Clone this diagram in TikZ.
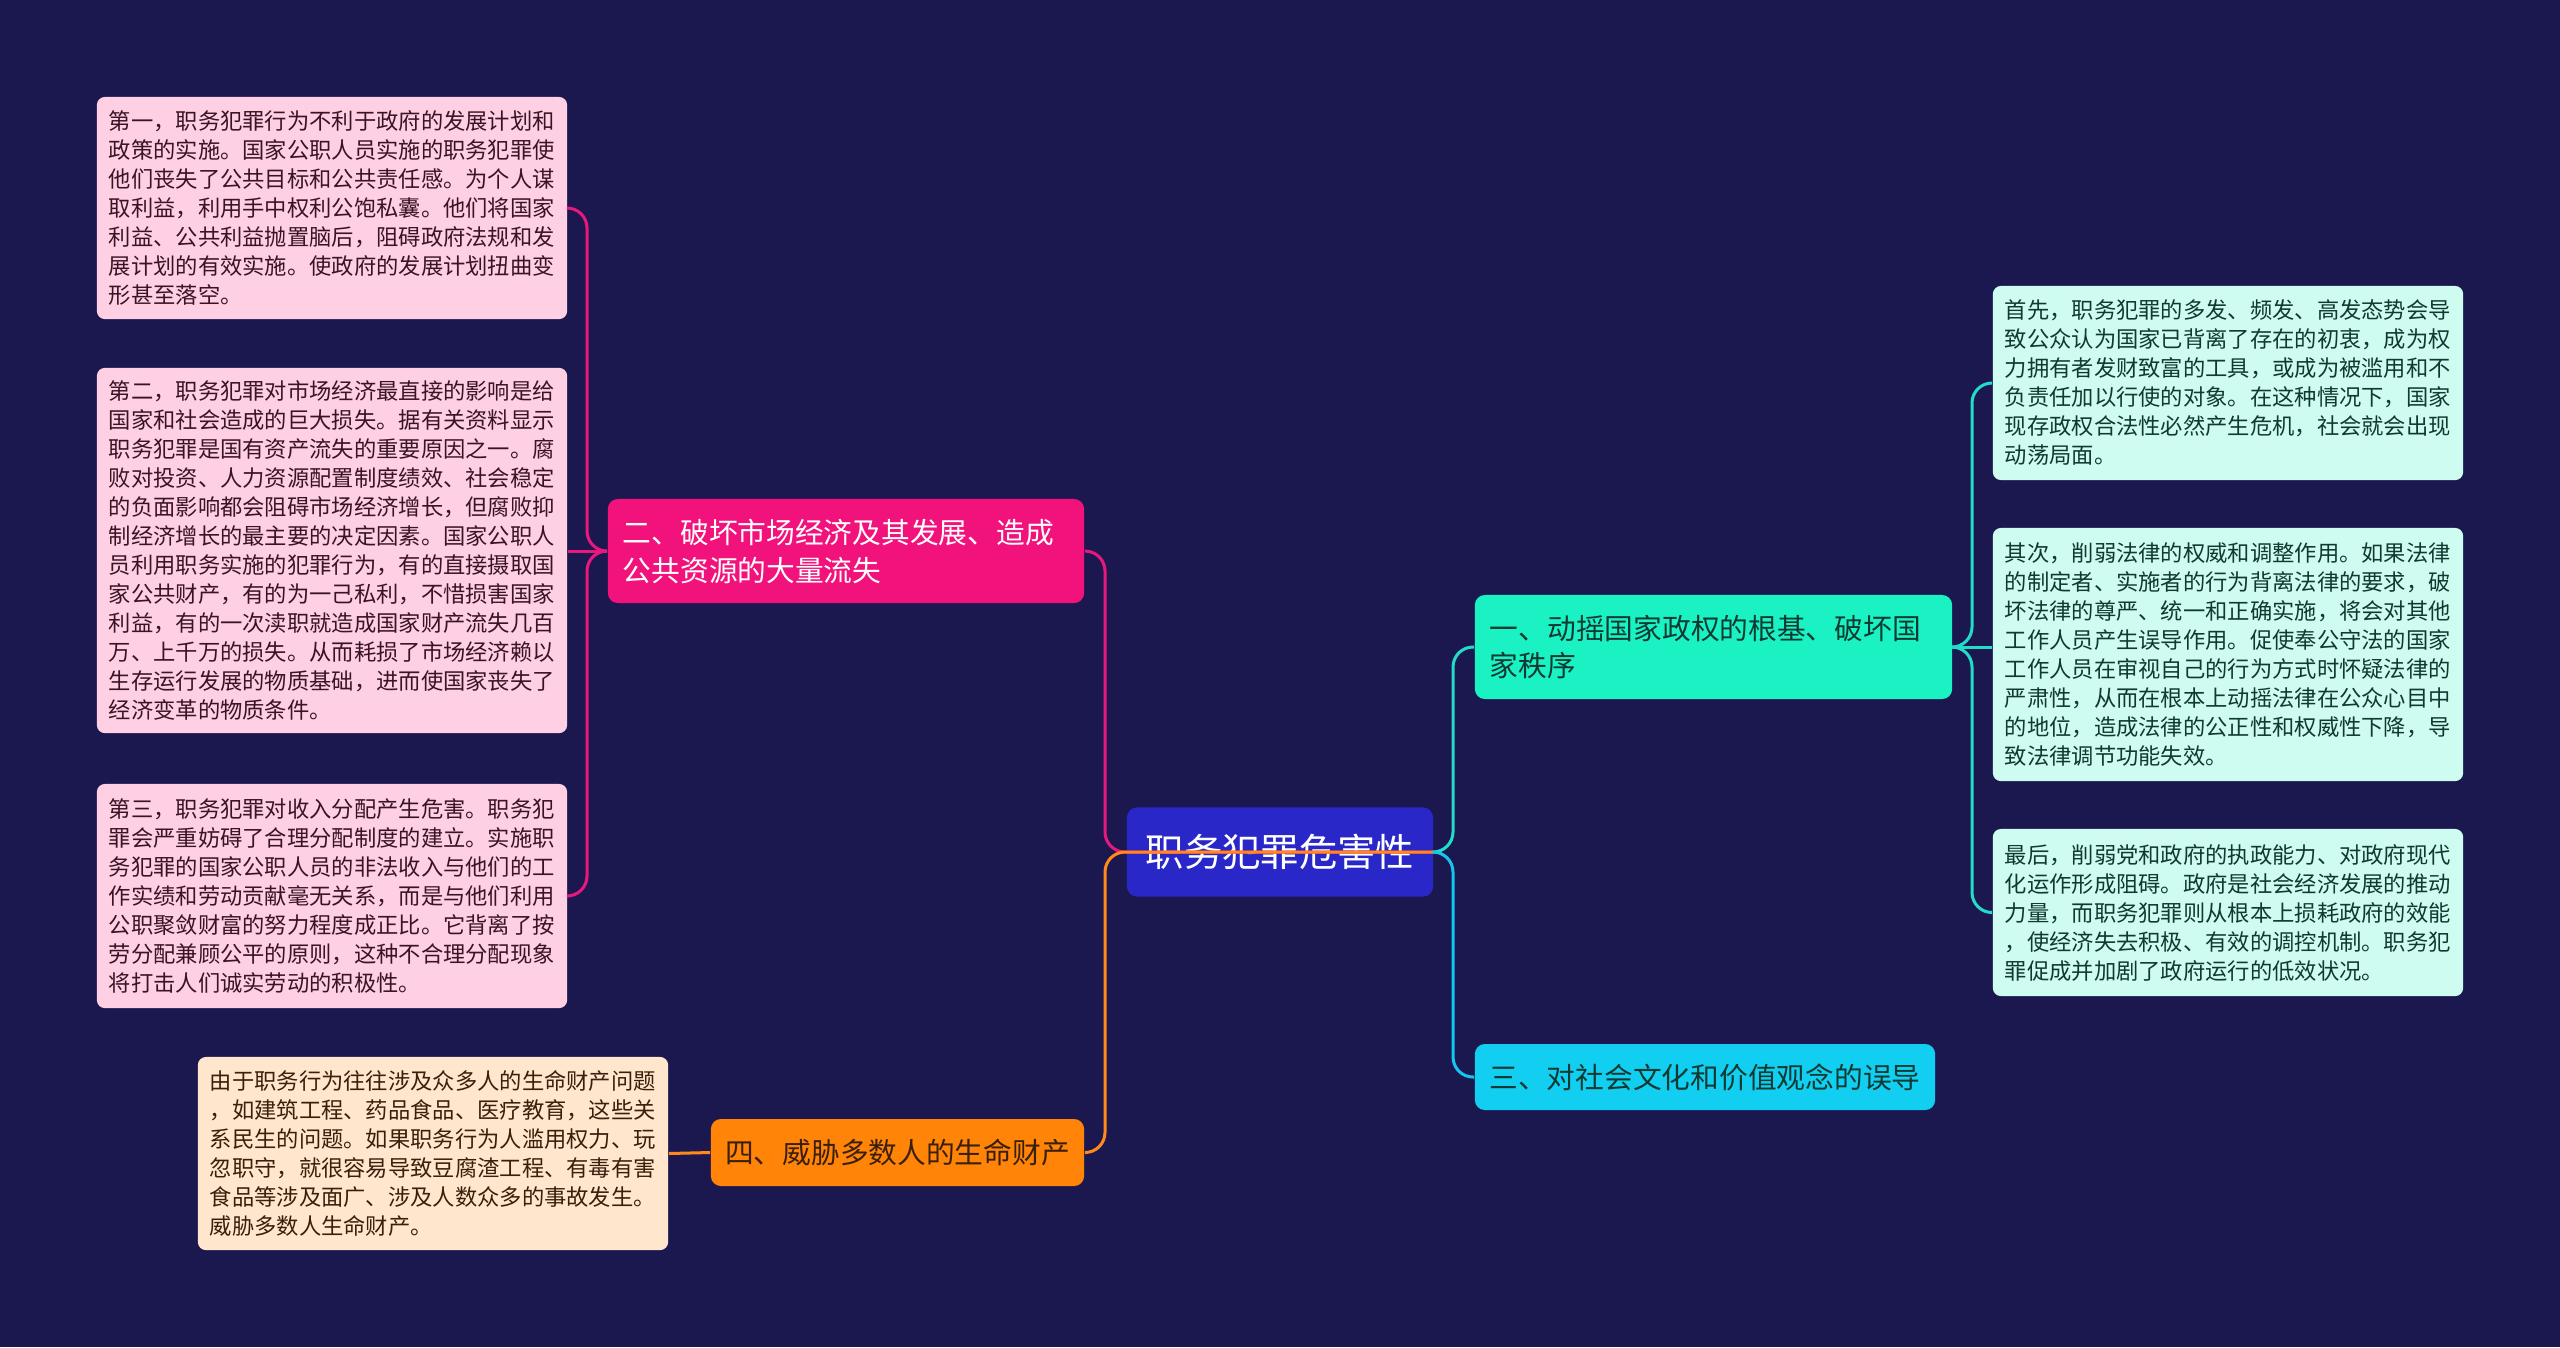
\documentclass[tikz,border=0pt]{standalone}
\usepackage{fontspec}
\setmainfont{Noto Sans CJK SC}
\definecolor{bg}{HTML}{1B1850}
\definecolor{rootc}{HTML}{2A27C9}
\definecolor{pinkc}{HTML}{F2127B}
\definecolor{pinkleaf}{HTML}{FFCFE3}
\definecolor{pinktext}{HTML}{3A1426}
\definecolor{greenc}{HTML}{1AF2C4}
\definecolor{greenleaf}{HTML}{CFFCF0}
\definecolor{greentext}{HTML}{0E3A31}
\definecolor{cyanc}{HTML}{12CFF2}
\definecolor{orangec}{HTML}{FF8408}
\definecolor{orangeleaf}{HTML}{FFE6CC}
\definecolor{orangetext}{HTML}{3A200C}
\definecolor{pinkline}{HTML}{E8187C}
\definecolor{orangeline}{HTML}{FF8A1A}
\definecolor{turqline}{HTML}{22DCC8}
\definecolor{cyanline}{HTML}{14C6EE}
\begin{document}
\begin{tikzpicture}[x=0.01cm,y=-0.01cm,
  leafbox/.style={rounded corners=0.08cm, inner sep=0pt, text width=4.46cm, align=left,
    minimum width=4.70cm, font=\fontsize{6.34}{8.25}\selectfont},
  branchbox/.style={rounded corners=0.1cm, inner sep=0pt, align=left,
    font=\fontsize{8.17}{10.8}\selectfont},
  conn/.style={line width=0.03cm, rounded corners=0.2cm}]
\fill[bg] (0,0) rectangle (2560,1347);
\useasboundingbox (0,0) rectangle (2560,1347);

% root
\node[fill=rootc, rounded corners=0.1cm, minimum width=3.06cm, minimum height=0.89cm,
  text=white, font=\fontsize{10.9}{13}\selectfont, inner sep=0pt] (root) at (1280,852) {职务犯罪危害性};

% branches
\node[branchbox, fill=pinkc, text=white, text width=4.46cm, minimum width=4.76cm, minimum height=1.04cm] (n2) at (846,551)
  {二、破坏市场经济及其发展、造成\\公共资源的大量流失};
\node[branchbox, fill=greenc, text=greentext, text width=4.47cm, minimum width=4.77cm, minimum height=1.04cm] (n1) at (1713.5,647)
  {一、动摇国家政权的根基、破坏国\\家秩序};
\node[branchbox, fill=cyanc, text=greentext, minimum width=4.60cm, minimum height=0.66cm] (n3) at (1705,1077)
  {三、对社会文化和价值观念的误导};
\node[branchbox, fill=orangec, text=orangetext, minimum width=3.73cm, minimum height=0.67cm] (n4) at (897.5,1152.5)
  {四、威胁多数人的生命财产};

% leaves
\node[leafbox, fill=pinkleaf, text=pinktext, minimum height=2.22cm] (p1) at (332,208)
  {第一，职务犯罪行为不利于政府的发展计划和\\政策的实施。国家公职人员实施的职务犯罪使\\他们丧失了公共目标和公共责任感。为个人谋\\取利益，利用手中权利公饱私囊。他们将国家\\利益、公共利益抛置脑后，阻碍政府法规和发\\展计划的有效实施。使政府的发展计划扭曲变\\形甚至落空。};
\node[leafbox, fill=pinkleaf, text=pinktext, minimum height=3.65cm] (p2) at (332,550.5)
  {第二，职务犯罪对市场经济最直接的影响是给\\国家和社会造成的巨大损失。据有关资料显示\\职务犯罪是国有资产流失的重要原因之一。腐\\败对投资、人力资源配置制度绩效、社会稳定\\的负面影响都会阻碍市场经济增长，但腐败抑\\制经济增长的最主要的决定因素。国家公职人\\员利用职务实施的犯罪行为，有的直接摄取国\\家公共财产，有的为一己私利，不惜损害国家\\利益，有的一次渎职就造成国家财产流失几百\\万、上千万的损失。从而耗损了市场经济赖以\\生存运行发展的物质基础，进而使国家丧失了\\经济变革的物质条件。};
\node[leafbox, fill=pinkleaf, text=pinktext, minimum height=2.24cm] (p3) at (332,896)
  {第三，职务犯罪对收入分配产生危害。职务犯\\罪会严重妨碍了合理分配制度的建立。实施职\\务犯罪的国家公职人员的非法收入与他们的工\\作实绩和劳动贡献毫无关系，而是与他们利用\\公职聚敛财富的努力程度成正比。它背离了按\\劳分配兼顾公平的原则，这种不合理分配现象\\将打击人们诚实劳动的积极性。};
\node[leafbox, fill=orangeleaf, text=orangetext, minimum height=1.93cm] (o1) at (433,1153.5)
  {由于职务行为往往涉及众多人的生命财产问题\\，如建筑工程、药品食品、医疗教育，这些关\\系民生的问题。如果职务行为人滥用权力、玩\\忽职守，就很容易导致豆腐渣工程、有毒有害\\食品等涉及面广、涉及人数众多的事故发生。\\威胁多数人生命财产。};
\node[leafbox, fill=greenleaf, text=greentext, minimum height=1.94cm] (g1) at (2228,383)
  {首先，职务犯罪的多发、频发、高发态势会导\\致公众认为国家已背离了存在的初衷，成为权\\力拥有者发财致富的工具，或成为被滥用和不\\负责任加以行使的对象。在这种情况下，国家\\现存政权合法性必然产生危机，社会就会出现\\动荡局面。};
\node[leafbox, fill=greenleaf, text=greentext, minimum height=2.53cm] (g2) at (2228,654.5)
  {其次，削弱法律的权威和调整作用。如果法律\\的制定者、实施者的行为背离法律的要求，破\\坏法律的尊严、统一和正确实施，将会对其他\\工作人员产生误导作用。促使奉公守法的国家\\工作人员在审视自己的行为方式时怀疑法律的\\严肃性，从而在根本上动摇法律在公众心目中\\的地位，造成法律的公正性和权威性下降，导\\致法律调节功能失效。};
\node[leafbox, fill=greenleaf, text=greentext, minimum height=1.67cm] (g3) at (2228,912.5)
  {最后，削弱党和政府的执政能力、对政府现代\\化运作形成阻碍。政府是社会经济发展的推动\\力量，而职务犯罪则从根本上损耗政府的效能\\，使经济失去积极、有效的调控机制。职务犯\\罪促成并加剧了政府运行的低效状况。};

% junction coordinates
\coordinate (lt) at (1105,852);
\coordinate (rt) at (1453,852);
\coordinate (j2) at (587,551);
\coordinate (j1) at (1972,647);

% root connectors
\draw[conn, pinkline] (root.east) -- (lt) |- (n2.east);
\draw[conn, orangeline] (root.east) -- (lt) |- (n4.east);
\draw[conn, turqline] (root.east) -- (rt) |- (n1.west);
\draw[conn, cyanline] (root.east) -- (rt) |- (n3.west);

% branch 二 leaves
\draw[conn, pinkline] (n2.west) -- (j2) |- (p1.east);
\draw[conn, pinkline] (n2.west) -- (p2.east |- n2.west);
\draw[conn, pinkline] (n2.west) -- (j2) |- (p3.east);

% branch 四 leaf
\draw[conn, orangeline] (n4.west) -- (o1.east);

% branch 一 leaves
\draw[conn, turqline] (n1.east) -- (j1) |- (g1.west);
\draw[conn, turqline] (n1.east) -- (g2.west |- n1.east);
\draw[conn, turqline] (n1.east) -- (j1) |- (g3.west);
\end{tikzpicture}
\end{document}
